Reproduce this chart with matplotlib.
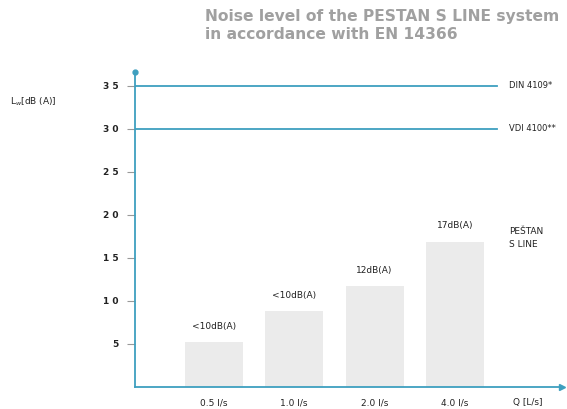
import matplotlib
matplotlib.use("Agg")
import matplotlib.pyplot as plt

flows = ["0.5 l/s", "1.0 l/s", "2.0 l/s", "4.0 l/s"]
levels = [5.2, 8.8, 11.7, 16.9]
bar_labels = ["<10dB(A)", "<10dB(A)", "12dB(A)", "17dB(A)"]
yticks = [5, 10, 15, 20, 25, 30, 35]
ytick_labels = ["5", "1 0", "1 5", "2 0", "2 5", "3 0", "3 5"]
limits = [35, 30]
limit_names = ["DIN 4109*", "VDI 4100**"]

TEAL = "#3e9fbf"
TXT = "#222222"

fig = plt.figure(figsize=(5.67, 4.09), dpi=100)
W, H = 567, 409
ax = fig.add_axes([135 / W, (H - 387) / H, (562 - 135) / W, (387 - 72) / H])

x = list(range(len(flows)))
ax.bar(x, levels, width=0.72, color="#ebebeb", zorder=1)
for i, (v, lab) in enumerate(zip(levels, bar_labels)):
    ax.text(i, v + 1.3, lab, ha="center", va="bottom", fontsize=6.5, color=TXT)

ax.set_xlim(-0.98, 4.33)
ax.set_ylim(0, 36.6)

for y, name in zip(limits, limit_names):
    ax.axhline(y, xmin=0, xmax=0.848, color=TEAL, lw=1.3, zorder=2)
    ax.text(3.67, y, name, ha="left", va="center", fontsize=6, color=TXT)

ax.text(3.67, 17.3, "PEŠTAN\nS LINE", ha="left", va="center", fontsize=6.5,
        color=TXT, linespacing=1.5)

for s in ["top", "right"]:
    ax.spines[s].set_visible(False)
for s in ["left", "bottom"]:
    ax.spines[s].set_color(TEAL)
    ax.spines[s].set_linewidth(1.3)
ax.plot([0], [1], marker="o", ms=3.5, color=TEAL, transform=ax.transAxes, clip_on=False)
ax.plot([1], [0], marker=">", ms=4, color=TEAL, transform=ax.transAxes, clip_on=False)

ax.set_yticks(yticks)
ax.set_yticklabels(ytick_labels, fontsize=6.5, color=TXT, fontweight="bold")
ax.tick_params(axis="y", length=6, width=0.8, color="#999999", pad=6)
ax.set_xticks(x)
ax.set_xticklabels(flows, fontsize=6.5, color=TXT)
ax.tick_params(axis="x", length=0, pad=8)
ax.text(3.9, -1.85, "Q [L/s]", ha="center", va="center", fontsize=6.5, color=TXT)

fig.text(10 / W, 1 - 102 / H, "L$_w$[dB (A)]", fontsize=6.5, color=TXT, va="center")

fig.text(205 / W, 1 - 9 / H, "Noise level of the PESTAN S LINE system\nin accordance with EN 14366",
         fontsize=11.2, fontweight="bold", color="#a0a0a0", va="top", ha="left",
         linespacing=1.25)

fig.savefig("out.png", dpi=100)
